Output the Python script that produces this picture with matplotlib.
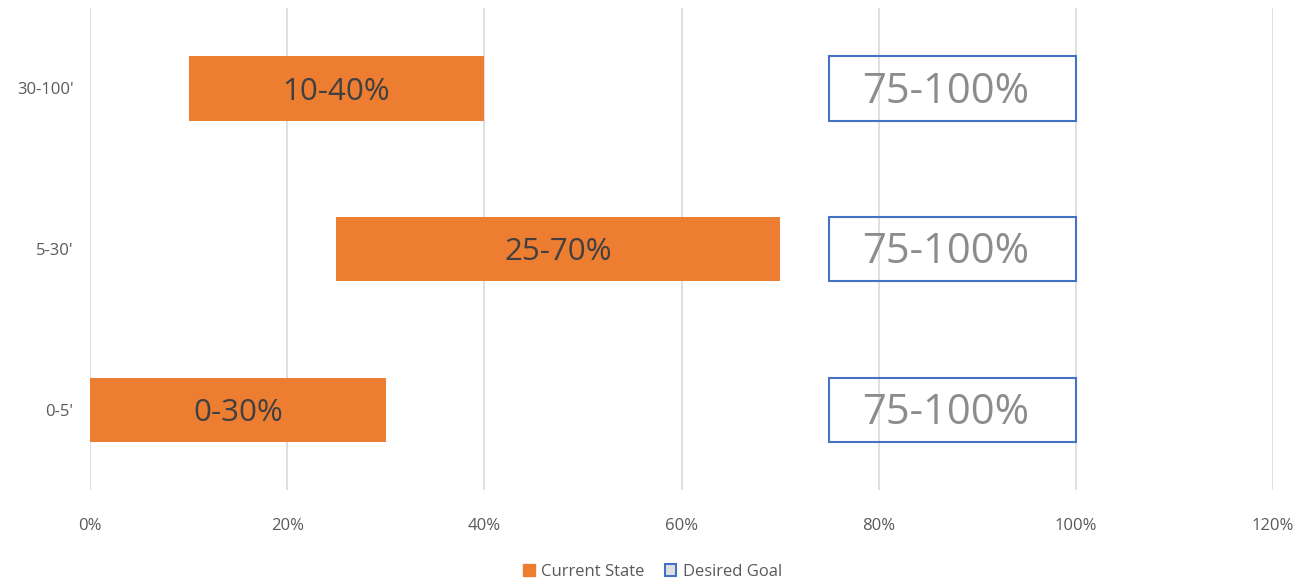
import matplotlib
matplotlib.use("Agg")
import matplotlib.pyplot as plt
from matplotlib.patches import Patch
from matplotlib.ticker import FuncFormatter

categories = ["0-5'", "5-30'", "30-100'"]
current_start = [0, 25, 10]
current_end = [30, 70, 40]
goal_start = [75, 75, 75]
goal_end = [100, 100, 100]
current_labels = ["0-30%", "25-70%", "10-40%"]
goal_labels = ["75-100%", "75-100%", "75-100%"]
xticks = [0, 20, 40, 60, 80, 100, 120]

plt.rcParams['font.family'] = ['Open Sans', 'DejaVu Sans']

fig = plt.figure(figsize=(13.05, 5.84), dpi=100)
ax = fig.add_axes([0.069, 0.161, 0.9065, 0.825])

y = list(range(len(categories)))
cur_w = [e - s for s, e in zip(current_start, current_end)]
goal_w = [e - s for s, e in zip(goal_start, goal_end)]

ax.barh(y, cur_w, left=current_start, height=0.4, color='#ED7D31', zorder=3)
ax.barh(y, goal_w, left=goal_start, height=0.4, facecolor='none',
        edgecolor='#4472C4', linewidth=1.5, zorder=3)

for i in y:
    ax.text(current_start[i] + cur_w[i] / 2, i - 0.02, current_labels[i], ha='center', va='center',
            fontsize=22.5, color='#404040', zorder=4)
    ax.text(goal_start[i] + goal_w[i] / 2 - 0.7, i - 0.02, goal_labels[i], ha='center', va='center',
            fontsize=30, color='#8C8C8C', zorder=4)

ax.set_xlim(0, 120)
ax.set_ylim(-0.5, 2.5)
ax.set_xticks(xticks)
ax.xaxis.set_major_formatter(FuncFormatter(lambda v, p: f"{int(v)}%"))
ax.set_yticks(y)
ax.set_yticklabels(categories)
ax.tick_params(axis='both', length=0, labelsize=12, colors='#595959')
ax.tick_params(axis='x', pad=20)
ax.tick_params(axis='y', pad=12)
ax.grid(axis='x', color='#D9D9D9', linewidth=1.2, zorder=0)
for s in ax.spines.values():
    s.set_visible(False)

handles = [Patch(facecolor='#ED7D31', edgecolor='#ED7D31'),
           Patch(facecolor='#E0E0E0', edgecolor='#4472C4', linewidth=1.5)]
fig.legend(handles, ['Current State', 'Desired Goal'], loc='lower center',
           bbox_to_anchor=(0.5, -0.018), ncol=2, frameon=False, fontsize=12,
           labelcolor='#595959', handlelength=0.7, handleheight=0.7, handletextpad=0.4,
           columnspacing=1.2)

fig.savefig('out.png', dpi=100)
